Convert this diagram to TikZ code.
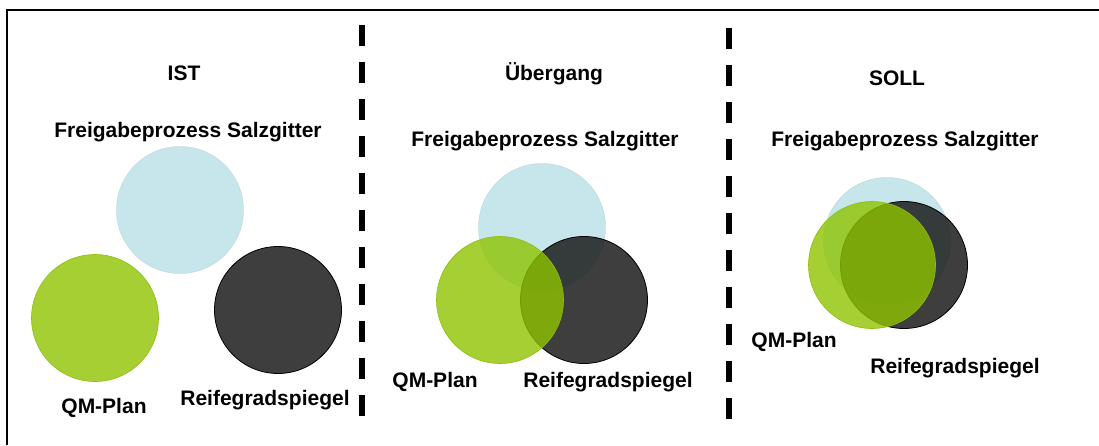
\documentclass[tikz,border=0pt]{standalone}
\usepackage{fontspec}
\setmainfont{Liberation Sans}
\definecolor{procblue}{HTML}{C6E6EB}
\definecolor{qmgreen}{HTML}{8EC300}
\definecolor{qmedge}{HTML}{8DBE10}
\definecolor{rgsgray}{HTML}{1C1C1C}
\begin{document}
\begin{tikzpicture}[x=1pt,y=-1pt,
  lbl/.style={font=\fontsize{21}{25}\selectfont\bfseries, anchor=base, inner sep=0pt},
  ring/.style={circle, inner sep=0pt, minimum size=127pt},
  proc/.style={ring, fill=procblue, draw=procblue!90!black, line width=0.3pt},
  qm/.style={ring, fill=qmgreen, fill opacity=0.8, draw=qmedge, line width=0.6pt},
  rgs/.style={ring, fill=rgsgray, fill opacity=0.85, draw=black, line width=0.8pt},
  divider/.style={line width=6pt, dash pattern=on 21pt off 16pt}
]
\useasboundingbox (0,0) rectangle (1099,445);

% frame
\coordinate (frTL) at (7,10);
\coordinate (frTR) at (1099,10);
\coordinate (frBL) at (7,445);
\draw[line width=2pt] (frBL) -- (frTL) -- (frTR);

% dividers
\coordinate (d1a) at (362,25);
\coordinate (d1b) at (362,420);
\coordinate (d2a) at (729,28);
\coordinate (d2b) at (729,424);
\draw[divider] (d1a) -- (d1b);
\draw[divider] (d2a) -- (d2b);

% IST
\node[lbl] (istT) at (184,80) {IST};
\node[lbl] (istP) at (188,137) {Freigabeprozess Salzgitter};
\node[proc] (istC1) at (180,210) {};
\node[qm] (istC2) at (95,318) {};
\node[rgs] (istC3) at (278,310) {};
\node[lbl] (istQ) at (104,413) {QM-Plan};
\node[lbl] (istR) at (265,405) {Reifegradspiegel};

% Uebergang
\node[lbl] (ubT) at (554,80) {Übergang};
\node[lbl] (ubP) at (545,146) {Freigabeprozess Salzgitter};
\node[proc] (ubC1) at (542,227) {};
\node[rgs] (ubC3) at (584,300) {};
\node[qm] (ubC2) at (500,300) {};
\node[lbl] (ubQ) at (435,387) {QM-Plan};
\node[lbl] (ubR) at (608,387) {Reifegradspiegel};

% SOLL
\node[lbl] (soT) at (897,85) {SOLL};
\node[lbl] (soP) at (905,146) {Freigabeprozess Salzgitter};
\node[proc] (soC1) at (887,241) {};
\node[rgs] (soC3) at (904,265) {};
\node[qm] (soC2) at (872,265) {};
\node[lbl] (soQ) at (794,347) {QM-Plan};
\node[lbl] (soR) at (955,373) {Reifegradspiegel};
\end{tikzpicture}
\end{document}
